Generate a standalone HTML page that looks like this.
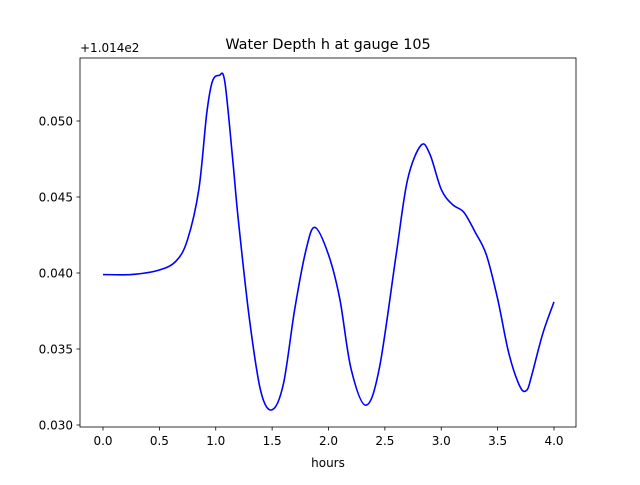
<!DOCTYPE html>
<html><head><meta charset="utf-8"><style>
body{margin:0;background:#fff;}
svg text{font-family:"DejaVu Sans","Liberation Sans",sans-serif;}
</style></head><body>
<svg width="640" height="480">
<rect width="640" height="480" fill="#fff"/>
<text x="328" y="49" font-size="14.4" text-anchor="middle">Water Depth h at gauge 105</text>
<text x="80" y="52" font-size="12">+1.014e2</text>
<g id="ticks"></g>
<path id="line" fill="none" stroke="#0000ff" stroke-width="1.6"/>
<rect x="80" y="58" width="496" height="369" fill="none" stroke="#000" stroke-width="0.8"/>
<text x="328" y="467" font-size="12" text-anchor="middle">hours</text>
</svg>
<script>
const hours=[0,0.25,0.5,0.65,0.75,0.85,0.92,0.97,1.03,1.08,1.15,1.2,1.3,1.4,1.5,1.6,1.7,1.8,1.88,2.0,2.1,2.2,2.33,2.45,2.6,2.7,2.82,2.9,3.0,3.1,3.2,3.3,3.4,3.5,3.6,3.7,3.76,3.8,3.9,4.0];
const depth=[0.0399,0.0399,0.0402,0.0408,0.0422,0.0455,0.0505,0.0526,0.0530,0.0526,0.0475,0.0435,0.0369,0.0322,0.0310,0.0327,0.0376,0.0415,0.0430,0.0412,0.0383,0.0337,0.0313,0.0337,0.0412,0.0461,0.0484,0.0478,0.0455,0.0445,0.0440,0.0427,0.0412,0.0383,0.0347,0.0325,0.0323,0.0332,0.0360,0.0381];
const xTicks=[0,0.5,1,1.5,2,2.5,3,3.5,4];
const xTickLabels=["0.0","0.5","1.0","1.5","2.0","2.5","3.0","3.5","4.0"];
const yTicks=[0.030,0.035,0.040,0.045,0.050];
const yTickLabels=["0.030","0.035","0.040","0.045","0.050"];
const X=v=>103+v*112.75;
const Y=v=>273-(v-0.040)*15200;
const NS="http://www.w3.org/2000/svg";
const g=document.getElementById('ticks');
function mk(t,a){const e=document.createElementNS(NS,t);for(const k in a)e.setAttribute(k,a[k]);g.appendChild(e);return e;}
xTicks.forEach((v,i)=>{
 const l=mk('line',{x1:X(v),x2:X(v),y1:427,y2:430.5,stroke:'#000','stroke-width':0.8});
 
 
 const t=mk('text',{x:X(v),y:445,'font-size':12,'text-anchor':'middle'});t.textContent=xTickLabels[i];
 
 
});
yTicks.forEach((v,i)=>{
 const l=mk('line',{x1:76.5,x2:80,y1:Y(v),y2:Y(v),stroke:'#000','stroke-width':0.8});
 
 
 const t=mk('text',{x:73,y:Y(v)+4.5,'font-size':12,'text-anchor':'end'});t.textContent=yTickLabels[i];
 
 
});
const p=hours.map((h,i)=>[X(h),Y(depth[i])]);
let d=`M${p[0][0]},${p[0][1]}`;
for(let i=0;i<p.length-1;i++){
 const p0=p[Math.max(0,i-1)],p1=p[i],p2=p[i+1],p3=p[Math.min(p.length-1,i+2)];
 d+=` C${p1[0]+(p2[0]-p0[0])/6},${p1[1]+(p2[1]-p0[1])/6} ${p2[0]-(p3[0]-p1[0])/6},${p2[1]-(p3[1]-p1[1])/6} ${p2[0]},${p2[1]}`;
}
document.getElementById('line').setAttribute('d',d);
</script>
</body></html>
